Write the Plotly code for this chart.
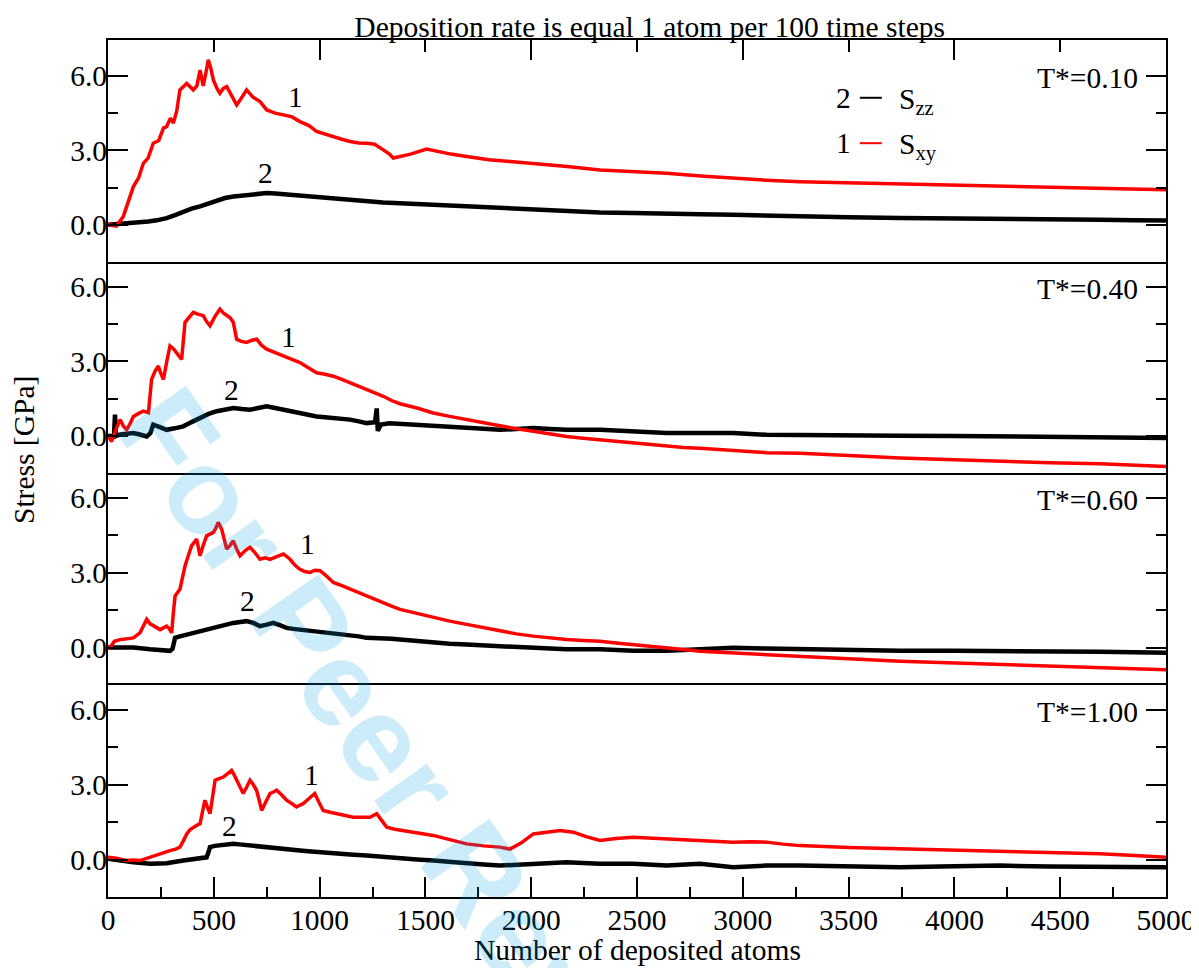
import plotly.graph_objects as go

# ---------------- data ----------------
temps = ["T*=0.10", "T*=0.40", "T*=0.60", "T*=1.00"]
x_tick_vals = [0, 500, 1000, 1500, 2000, 2500, 3000, 3500, 4000, 4500, 5000]
y_tick_vals = [0.0, 3.0, 6.0]

# Panel 1 (T*=0.10)
p1_sxy_x = [0, 40, 72, 95, 120, 145, 167, 190, 214, 240, 262, 277, 295, 309, 325, 340, 372, 403, 420, 435, 450, 462, 474, 486, 498, 515, 529, 545, 561, 585, 608, 630, 655, 685, 718, 750, 790, 829, 870, 907, 950, 986, 1025, 1065, 1105, 1144, 1185, 1222, 1260, 1301, 1330, 1348, 1380, 1430, 1506, 1560, 1620, 1695, 1800, 1900, 2010, 2170, 2325, 2480, 2640, 2800, 2955, 3110, 3270, 3500, 3743, 4000, 4216, 4450, 4688, 4850, 5000]
p1_sxy = [0.0, -0.05, 0.33, 0.9, 1.54, 1.9, 2.48, 2.7, 3.29, 3.4, 3.9, 3.96, 4.3, 4.1, 4.6, 5.44, 5.7, 5.44, 5.6, 6.24, 5.6, 6.1, 6.65, 6.3, 5.84, 5.5, 5.3, 5.5, 5.57, 5.2, 4.83, 5.1, 5.44, 5.15, 4.97, 4.63, 4.5, 4.43, 4.35, 4.16, 4.0, 3.76, 3.65, 3.56, 3.45, 3.36, 3.3, 3.29, 3.25, 3.02, 2.85, 2.69, 2.75, 2.85, 3.05, 2.95, 2.85, 2.75, 2.62, 2.55, 2.48, 2.35, 2.21, 2.15, 2.08, 1.97, 1.88, 1.8, 1.74, 1.7, 1.65, 1.59, 1.54, 1.5, 1.48, 1.44, 1.41]
p1_szz_x = [0, 60, 120, 190, 230, 277, 320, 356, 395, 435, 475, 514, 553, 593, 632, 671, 710, 750, 790, 829, 870, 907, 950, 986, 1025, 1065, 1144, 1222, 1300, 1380, 1540, 1695, 1850, 2010, 2170, 2325, 2480, 2640, 2800, 2955, 3110, 3270, 3500, 3743, 4000, 4216, 4450, 4688, 4850, 5000]
p1_szz = [0.0, 0.03, 0.07, 0.13, 0.18, 0.27, 0.4, 0.54, 0.65, 0.74, 0.87, 1.0, 1.08, 1.14, 1.18, 1.21, 1.25, 1.28, 1.26, 1.23, 1.22, 1.21, 1.17, 1.14, 1.1, 1.07, 1.0, 0.94, 0.9, 0.87, 0.8, 0.74, 0.67, 0.6, 0.55, 0.5, 0.48, 0.47, 0.43, 0.4, 0.36, 0.33, 0.3, 0.27, 0.26, 0.25, 0.22, 0.2, 0.18, 0.17]

# Panel 2 (T*=0.40)
p2_sxy_x = [0, 17, 35, 57, 72, 88, 105, 120, 145, 167, 191, 206, 222, 238, 250, 262, 278, 293, 310, 325, 348, 364, 385, 403, 425, 450, 466, 482, 505, 529, 545, 561, 577, 592, 600, 608, 630, 655, 680, 703, 725, 750, 790, 829, 870, 907, 945, 986, 1025, 1065, 1105, 1144, 1185, 1222, 1260, 1301, 1340, 1380, 1460, 1537, 1615, 1695, 1775, 1852, 1930, 2010, 2090, 2167, 2245, 2325, 2400, 2482, 2560, 2640, 2720, 2797, 2875, 2955, 3035, 3112, 3190, 3270, 3500, 3743, 4000, 4216, 4450, 4688, 4850, 5000]
p2_sxy = [0.0, -0.23, 0.2, 0.65, 0.4, 0.24, 0.5, 0.78, 0.9, 0.99, 0.93, 2.27, 2.6, 2.81, 2.5, 2.27, 3.0, 3.62, 3.5, 3.35, 3.08, 4.57, 4.8, 4.97, 4.9, 4.84, 4.6, 4.43, 4.8, 5.1, 4.95, 4.84, 4.75, 4.57, 4.2, 3.89, 3.8, 3.76, 3.85, 3.89, 3.65, 3.49, 3.35, 3.22, 3.1, 2.95, 2.75, 2.54, 2.48, 2.4, 2.27, 2.14, 2.0, 1.86, 1.72, 1.59, 1.42, 1.29, 1.12, 0.92, 0.78, 0.65, 0.5, 0.38, 0.28, 0.18, 0.07, -0.03, -0.1, -0.16, -0.23, -0.3, -0.37, -0.43, -0.47, -0.5, -0.55, -0.59, -0.64, -0.68, -0.69, -0.7, -0.8, -0.9, -0.97, -1.04, -1.09, -1.13, -1.18, -1.24]
p2_szz_x = [0, 17, 28, 33, 38, 60, 120, 150, 183, 200, 214, 245, 277, 315, 356, 395, 435, 475, 514, 553, 593, 632, 671, 710, 750, 790, 829, 870, 907, 945, 986, 1025, 1065, 1105, 1144, 1185, 1222, 1262, 1270, 1275, 1290, 1330, 1380, 1460, 1537, 1615, 1695, 1775, 1852, 1930, 2010, 2090, 2167, 2325, 2482, 2640, 2797, 2955, 3112, 3270, 3500, 3743, 4000, 4216, 4450, 4688, 4850, 5000]
p2_szz = [0.0, -0.03, -0.03, 0.85, 0.0, 0.05, 0.11, 0.05, -0.03, 0.1, 0.45, 0.35, 0.24, 0.3, 0.38, 0.55, 0.72, 0.88, 0.99, 1.06, 1.12, 1.08, 1.05, 1.12, 1.19, 1.12, 1.05, 0.98, 0.92, 0.85, 0.78, 0.75, 0.72, 0.68, 0.65, 0.58, 0.51, 0.55, 1.1, 0.2, 0.45, 0.5, 0.48, 0.42, 0.38, 0.34, 0.31, 0.28, 0.24, 0.27, 0.31, 0.27, 0.24, 0.24, 0.18, 0.11, 0.11, 0.11, 0.04, 0.04, 0.02, 0.0, -0.01, -0.03, -0.06, -0.09, -0.09, -0.09]

# Panel 3 (T*=0.60)
p3_sxy_x = [0, 9, 30, 57, 90, 120, 151, 167, 183, 199, 214, 230, 246, 262, 277, 290, 301, 309, 317, 340, 352, 364, 380, 395, 419, 435, 450, 466, 482, 498, 510, 521, 537, 550, 561, 577, 592, 608, 624, 650, 671, 695, 718, 742, 766, 797, 829, 845, 860, 884, 907, 930, 954, 978, 1002, 1035, 1065, 1105, 1144, 1185, 1222, 1260, 1301, 1340, 1380, 1460, 1537, 1615, 1695, 1775, 1852, 1930, 2010, 2090, 2167, 2245, 2325, 2400, 2482, 2560, 2640, 2720, 2797, 2875, 2955, 3035, 3112, 3190, 3270, 3500, 3743, 4000, 4216, 4450, 4688, 4850, 5000]
p3_sxy = [0.0, -0.01, 0.25, 0.32, 0.35, 0.39, 0.59, 0.9, 1.13, 0.95, 0.86, 0.8, 0.72, 0.8, 0.86, 0.75, 0.59, 1.4, 2.07, 2.34, 2.8, 3.27, 3.7, 4.08, 4.35, 3.68, 4.1, 4.48, 4.55, 4.62, 4.8, 5.02, 4.75, 4.3, 3.95, 4.1, 4.28, 3.95, 3.68, 3.9, 4.02, 3.8, 3.54, 3.6, 3.54, 3.65, 3.75, 3.65, 3.54, 3.3, 3.14, 3.05, 3.01, 3.1, 3.08, 2.85, 2.61, 2.48, 2.34, 2.2, 2.07, 1.93, 1.8, 1.66, 1.53, 1.36, 1.2, 1.06, 0.93, 0.8, 0.66, 0.55, 0.46, 0.38, 0.32, 0.28, 0.25, 0.18, 0.12, 0.05, -0.01, -0.08, -0.15, -0.18, -0.21, -0.25, -0.28, -0.31, -0.35, -0.45, -0.55, -0.62, -0.68, -0.75, -0.82, -0.86, -0.89]
p3_szz_x = [0, 60, 120, 199, 250, 293, 305, 317, 340, 372, 400, 435, 475, 514, 553, 592, 625, 655, 690, 718, 750, 781, 812, 844, 875, 907, 946, 986, 1025, 1065, 1105, 1144, 1185, 1222, 1260, 1301, 1340, 1380, 1460, 1537, 1615, 1695, 1775, 1852, 1930, 2010, 2090, 2167, 2325, 2482, 2640, 2797, 2955, 3112, 3270, 3500, 3743, 4000, 4216, 4450, 4688, 4850, 5000]
p3_szz = [0.0, 0.0, 0.0, -0.07, -0.1, -0.13, -0.05, 0.39, 0.45, 0.52, 0.58, 0.66, 0.76, 0.86, 0.93, 0.99, 1.03, 1.06, 0.98, 0.86, 0.92, 0.99, 0.9, 0.79, 0.75, 0.72, 0.69, 0.66, 0.62, 0.59, 0.55, 0.52, 0.45, 0.39, 0.39, 0.39, 0.35, 0.32, 0.25, 0.19, 0.15, 0.12, 0.08, 0.05, 0.02, -0.01, -0.04, -0.07, -0.07, -0.13, -0.13, -0.07, -0.01, -0.04, -0.07, -0.1, -0.13, -0.13, -0.13, -0.15, -0.17, -0.19, -0.21]

# Panel 4 (T*=1.00)
p4_sxy_x = [0, 40, 88, 120, 151, 183, 214, 250, 293, 320, 340, 356, 372, 388, 403, 420, 435, 447, 458, 470, 482, 494, 506, 525, 545, 565, 584, 596, 608, 624, 639, 655, 671, 687, 702, 714, 726, 745, 766, 780, 797, 820, 844, 868, 891, 906, 922, 950, 977, 997, 1017, 1050, 1080, 1120, 1159, 1200, 1238, 1270, 1295, 1317, 1355, 1395, 1460, 1537, 1615, 1695, 1775, 1852, 1899, 1950, 2010, 2070, 2136, 2199, 2260, 2325, 2400, 2482, 2560, 2640, 2720, 2797, 2875, 2955, 3035, 3112, 3190, 3270, 3500, 3743, 4000, 4216, 4450, 4688, 4850, 5000]
p4_sxy = [0.09, 0.05, -0.04, -0.02, -0.04, 0.05, 0.16, 0.25, 0.36, 0.42, 0.5, 0.75, 1.03, 1.2, 1.3, 1.38, 1.44, 1.9, 2.38, 2.1, 1.84, 2.5, 3.18, 3.25, 3.31, 3.45, 3.58, 3.4, 3.18, 2.9, 2.65, 2.9, 3.18, 3.0, 2.78, 2.4, 1.97, 2.3, 2.65, 2.7, 2.78, 2.6, 2.38, 2.25, 2.11, 2.18, 2.24, 2.45, 2.65, 2.3, 1.97, 1.9, 1.84, 1.76, 1.7, 1.7, 1.7, 1.84, 1.55, 1.3, 1.22, 1.17, 1.07, 0.97, 0.8, 0.63, 0.55, 0.5, 0.42, 0.65, 1.03, 1.08, 1.17, 1.1, 0.92, 0.77, 0.85, 0.9, 0.87, 0.83, 0.8, 0.77, 0.73, 0.7, 0.72, 0.7, 0.62, 0.56, 0.48, 0.43, 0.4, 0.36, 0.3, 0.23, 0.16, 0.09]
p4_szz_x = [0, 60, 120, 199, 277, 356, 435, 466, 475, 482, 505, 529, 560, 592, 632, 671, 710, 750, 790, 829, 868, 907, 946, 986, 1025, 1065, 1144, 1222, 1300, 1380, 1460, 1537, 1615, 1695, 1775, 1852, 1930, 2010, 2090, 2167, 2325, 2482, 2640, 2797, 2955, 3112, 3270, 3500, 3743, 4000, 4216, 4450, 4688, 4850, 5000]
p4_szz = [0.03, -0.05, -0.11, -0.17, -0.15, -0.04, 0.03, 0.09, 0.3, 0.5, 0.55, 0.56, 0.6, 0.63, 0.6, 0.56, 0.53, 0.5, 0.47, 0.43, 0.4, 0.36, 0.33, 0.3, 0.27, 0.23, 0.2, 0.16, 0.1, 0.03, 0.0, -0.04, -0.1, -0.17, -0.2, -0.24, -0.2, -0.17, -0.14, -0.11, -0.17, -0.17, -0.24, -0.17, -0.31, -0.24, -0.24, -0.28, -0.31, -0.27, -0.24, -0.28, -0.31, -0.3, -0.31]

# curve labels "1" (S_xy) and "2" (S_zz): (x, y) per panel
label1_pos = [(888, 5.15), (855, 3.97), (945, 4.15), (964, 3.38)]
label2_pos = [(742, 2.1), (585, 1.86), (657, 1.85), (572, 1.33)]

panels = [
    (p1_szz_x, p1_szz, p1_sxy_x, p1_sxy),
    (p2_szz_x, p2_szz, p2_sxy_x, p2_sxy),
    (p3_szz_x, p3_szz, p3_sxy_x, p3_sxy),
    (p4_szz_x, p4_szz, p4_sxy_x, p4_sxy),
]

# ---------------- figure ----------------
FONT = "Liberation Serif"
FS = 29.5
RED = "#ff0000"
BLACK = "#000000"

# the page body adds an 8 px margin, so the figure is sized to fit inside it
W, H = 1191, 960
ML, MR, MT, MB = 100, 33, 32, 71

fig = go.Figure()
for i, (zx, zy, xx, xy) in enumerate(panels, start=1):
    fig.add_trace(go.Scatter(x=zx, y=zy, mode="lines", line=dict(color=BLACK, width=4.5),
                             xaxis=f"x{i}", yaxis=f"y{i}", showlegend=False, name="S_zz"))
    fig.add_trace(go.Scatter(x=xx, y=xy, mode="lines", line=dict(color=RED, width=3.5),
                             xaxis=f"x{i}", yaxis=f"y{i}", showlegend=False, name="S_xy"))

plot_top, plot_bot = MT, H - MB
span = plot_bot - plot_top
edges_px = [plot_top, plot_top + 222, plot_top + 433, plot_top + 645, plot_bot]
domains = [[(plot_bot - edges_px[k + 1]) / span, (plot_bot - edges_px[k]) / span] for k in range(4)]
yranges = [[-1.5, 7.45], [-1.5, 7.0], [-1.5, 7.0], [-1.5, 7.0]]

tickfont = dict(family=FONT, size=FS, color="black")
axis_common = dict(linecolor="black", linewidth=2, showgrid=False, zeroline=False,
                   tickfont=tickfont)

layout_axes = {}
for i in range(1, 5):
    yk = "yaxis" if i == 1 else f"yaxis{i}"
    xk = "xaxis" if i == 1 else f"xaxis{i}"
    layout_axes[yk] = dict(axis_common, domain=domains[i - 1], range=yranges[i - 1],
                           anchor="x" if i == 1 else f"x{i}",
                           showline=True, mirror="ticks",
                           tickmode="array", tickvals=y_tick_vals, tickformat=".1f",
                           ticks="inside", ticklen=20, tickwidth=1.5, tickcolor="black",
                           ticklabelstandoff=-7,
                           minor=dict(dtick=1.5, tick0=0, ticks="inside", ticklen=10,
                                      tickwidth=1.5, tickcolor="black"))
    xa = dict(axis_common, domain=[0, 1], range=[0, 5000],
              anchor="y" if i == 1 else f"y{i}")
    if i > 1:
        xa["matches"] = "x"
    if i == 1:
        xa.update(side="top", showline=True, mirror=True,
                  ticks="inside", tickmode="linear", tick0=0, dtick=1000,
                  ticklen=20, tickwidth=1.5, tickcolor="black", showticklabels=False,
                  minor=dict(dtick=500, tick0=0, ticks="inside", ticklen=12,
                             tickwidth=1.5, tickcolor="black"))
    elif i == 2:
        xa.update(side="bottom", showline=True, mirror=False, ticks="", showticklabels=False)
    elif i == 3:
        xa.update(side="bottom", showline=False, ticks="", showticklabels=False)
    else:
        xa.update(side="bottom", showline=True, mirror=True,
                  ticks="inside", tickmode="array", tickvals=x_tick_vals,
                  ticklen=20, tickwidth=1.5, tickcolor="black", showticklabels=True,
                  ticklabelstandoff=-4,
                  minor=dict(dtick=250, tick0=0, ticks="inside", ticklen=10,
                             tickwidth=1.5, tickcolor="black"))
    layout_axes[xk] = xa

fig.update_layout(**layout_axes)

annotations = []
shapes = []
txtfont = dict(family=FONT, size=FS, color="black")
for i in range(1, 5):
    xr = "x" if i == 1 else f"x{i}"
    yr = "y" if i == 1 else f"y{i}"
    annotations.append(dict(x=4877, y=5.9, xref=xr, yref=yr, text=temps[i - 1],
                            showarrow=False, xanchor="right", yanchor="middle",
                            font=txtfont))
    lx, ly = label1_pos[i - 1]
    annotations.append(dict(x=lx, y=ly, xref=xr, yref=yr, text="1", showarrow=False,
                            font=txtfont))
    lx, ly = label2_pos[i - 1]
    annotations.append(dict(x=lx, y=ly, xref=xr, yref=yr, text="2", showarrow=False,
                            font=txtfont))

# legend (panel 1)
legend_rows = [("2", "S<sub>zz</sub>", BLACK, 5.12), ("1", "S<sub>xy</sub>", RED, 3.29)]
for num, lab, col, yv in legend_rows:
    annotations.append(dict(x=3521, y=yv, xref="x", yref="y", text=num, showarrow=False,
                            xanchor="right", yanchor="middle", font=txtfont))
    annotations.append(dict(x=3729, y=yv - 0.12, xref="x", yref="y", text=lab, showarrow=False,
                            xanchor="left", yanchor="middle", font=txtfont))
    shapes.append(dict(type="line", xref="x", yref="y", x0=3553, x1=3657, y0=yv, y1=yv,
                       line=dict(color=col, width=2)))

# axis titles
annotations.append(dict(x=0.5, y=-0.062, xref="paper", yref="paper",
                        text="Number of deposited atoms", showarrow=False,
                        xanchor="center", yanchor="middle", font=txtfont))
annotations.append(dict(x=-0.0794, y=0.5216, xref="paper", yref="paper",
                        text="Stress [GPa]", showarrow=False, textangle=-90,
                        xanchor="center", yanchor="middle", font=txtfont))
# watermark
annotations.append(dict(x=0.294, y=0.122, xref="paper", yref="paper",
                        text="<b>For Peer Review</b>", showarrow=False, textangle=55,
                        xanchor="center", yanchor="middle",
                        font=dict(family="Liberation Sans", size=122,
                                  color="rgba(0,160,230,0.2)")))

fig.update_layout(
    width=W, height=H,
    margin=dict(l=ML, r=MR, t=MT, b=MB, autoexpand=False),
    paper_bgcolor="white", plot_bgcolor="white",
    font=dict(family=FONT, color="black"),
    title=dict(text="Deposition rate is equal 1 atom per 100 time steps",
               x=0.512, xref="paper", xanchor="center",
               y=1 - 19 / H, yref="container", yanchor="middle",
               font=txtfont),
    annotations=annotations, shapes=shapes,
    showlegend=False,
)

fig.write_html("out.html")
